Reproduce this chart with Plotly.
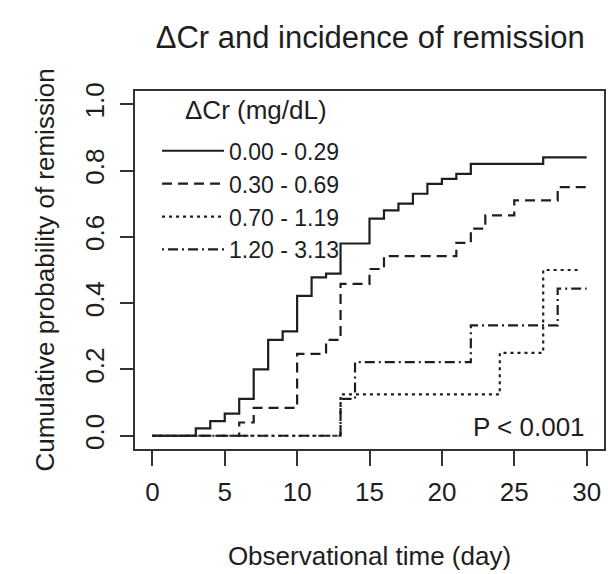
import plotly.graph_objects as go

# ---- data ----
groups = ["0.00 - 0.29", "0.30 - 0.69", "0.70 - 1.19", "1.20 - 3.13"]
legend_title = "\u0394Cr (mg/dL)"

t_g1 = [0, 3, 4, 5, 6, 7, 8, 9, 10, 11, 12, 13, 15, 16, 17, 18, 19, 20, 21, 22, 27, 30]
p_g1 = [0, 0.022, 0.044, 0.067, 0.111, 0.2, 0.289, 0.315, 0.422, 0.478, 0.489, 0.58,
        0.655, 0.68, 0.70, 0.73, 0.76, 0.775, 0.79, 0.82, 0.84, 0.84]

t_g2 = [0, 6, 7, 10, 12, 13, 15, 16, 21, 22, 23, 25, 28, 30]
p_g2 = [0, 0.04, 0.084, 0.247, 0.289, 0.458, 0.503, 0.542, 0.582, 0.625, 0.665, 0.71, 0.75, 0.75]

t_g3 = [0, 13, 24, 27, 29.6]
p_g3 = [0, 0.125, 0.25, 0.5, 0.5]

t_g4 = [0, 13, 14, 22, 28, 30]
p_g4 = [0, 0.111, 0.222, 0.333, 0.444, 0.444]

x_ticks = [0, 5, 10, 15, 20, 25, 30]
y_ticks = [0.0, 0.2, 0.4, 0.6, 0.8, 1.0]
y_ticklabels = ["0.0", "0.2", "0.4", "0.6", "0.8", "1.0"]

series_t = [t_g1, t_g2, t_g3, t_g4]
series_p = [p_g1, p_g2, p_g3, p_g4]
dashes = ["solid", "10px,6px", "3px,4px", "2px,4px,10px,4px"]

FONT = "Liberation Sans, Arial, sans-serif"
INK = "#1e1e1e"

fig = go.Figure()
for name, t, p, d in zip(groups, series_t, series_p, dashes):
    fig.add_trace(go.Scatter(
        x=t, y=p, mode="lines", name=name,
        line=dict(shape="hv", color=INK, width=2.2, dash=d),
        hoverinfo="skip",
    ))

fig.update_layout(
    width=608, height=574,
    margin=dict(l=135, r=2, t=91, b=125),
    paper_bgcolor="white", plot_bgcolor="white",
    font=dict(family=FONT, size=26, color=INK),
    title=dict(text="\u0394Cr and incidence of remission", x=0.609, xanchor="center",
               y=0.935, yanchor="middle", font=dict(size=31, color=INK)),
    showlegend=True,
    legend=dict(
        x=0.047, y=0.893, xanchor="left", yanchor="top",
        bgcolor="rgba(0,0,0,0)", borderwidth=0,
        font=dict(size=23, color=INK),
        itemwidth=62,
        itemclick=False, itemdoubleclick=False,
    ),
)

fig.update_xaxes(
    range=[-1.2, 31.2], tickvals=x_ticks, ticktext=[str(v) for v in x_ticks],
    showgrid=False, zeroline=False,
    showline=True, linecolor="#333", linewidth=1.6, mirror=True,
    ticks="outside", ticklen=15, tickwidth=1.6, tickcolor="#333",
    tickfont=dict(size=26, color=INK), ticklabelstandoff=4,
    title=dict(text="Observational time (day)", font=dict(size=26, color=INK), standoff=41),
)
fig.update_yaxes(
    range=[-0.04, 1.04], tickvals=y_ticks, ticktext=y_ticklabels,
    showgrid=False, zeroline=False,
    showline=True, linecolor="#333", linewidth=1.6, mirror=True,
    ticks="outside", ticklen=13, tickwidth=1.6, tickcolor="#333",
    tickangle=-90, tickfont=dict(size=26, color=INK), ticklabelstandoff=6,
    title=dict(text="Cumulative probability of remission", font=dict(size=26, color=INK), standoff=18),
)

# legend heading placed above the legend entries
fig.add_annotation(
    x=0.102, y=0.947, xref="paper", yref="paper", text=legend_title, showarrow=False,
    xanchor="left", yanchor="middle", font=dict(size=26, color=INK),
)

fig.add_annotation(
    x=26.05, y=0.025, xref="x", yref="y", text="P < 0.001", showarrow=False,
    xanchor="center", yanchor="middle", font=dict(size=26, color=INK),
)

fig.write_html("out.html")
